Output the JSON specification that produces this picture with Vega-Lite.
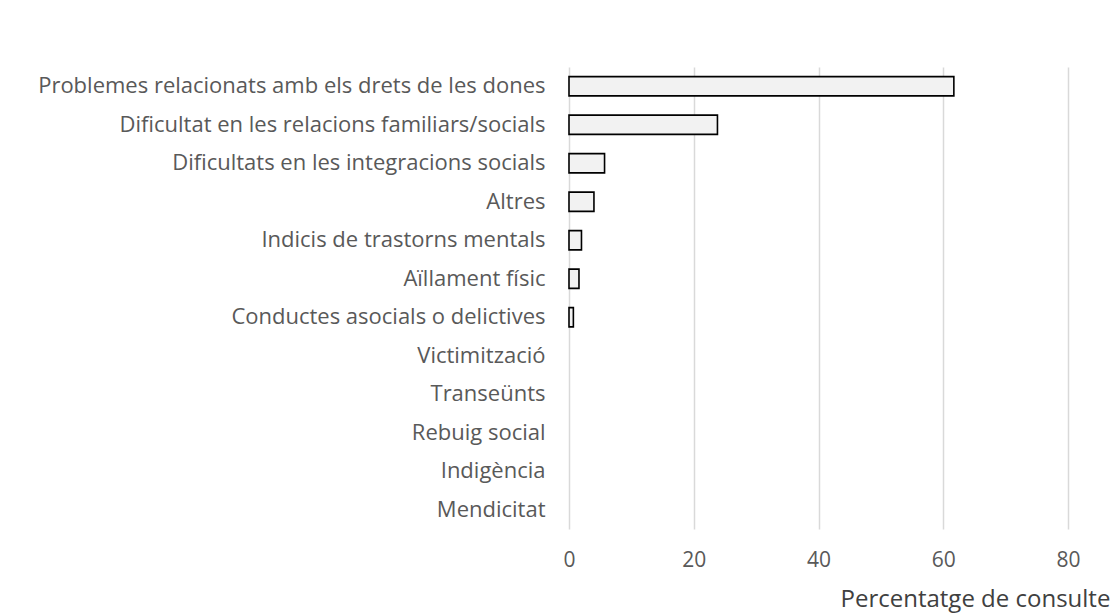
{
  "$schema": "https://vega.github.io/schema/vega-lite/v6.json",
  "autosize": {"type": "none"},
  "width": 499,
  "height": 462,
  "padding": {"left": 569, "top": 67, "right": 52, "bottom": 85},
  "background": "white",
  "data": {
    "values": [
      {"motiu": "Problemes relacionats amb els drets de les dones", "pct": 61.7},
      {"motiu": "Dificultat en les relacions familiars/socials", "pct": 23.8},
      {"motiu": "Dificultats en les integracions socials", "pct": 5.7},
      {"motiu": "Altres", "pct": 4.0},
      {"motiu": "Indicis de trastorns mentals", "pct": 2.0},
      {"motiu": "Aïllament físic", "pct": 1.6},
      {"motiu": "Conductes asocials o delictives", "pct": 0.7},
      {"motiu": "Victimització", "pct": 0},
      {"motiu": "Transeünts", "pct": 0},
      {"motiu": "Rebuig social", "pct": 0},
      {"motiu": "Indigència", "pct": 0},
      {"motiu": "Mendicitat", "pct": 0}
    ]
  },
  "mark": {"type": "bar", "fill": "#f2f2f2", "stroke": "#000000"},
  "encoding": {
    "y": {
      "field": "motiu",
      "type": "nominal",
      "sort": null,
      "scale": {"paddingInner": 0.5, "paddingOuter": 0.25},
      "axis": {
        "title": null,
        "domain": false,
        "ticks": false,
        "tickSize": 0,
        "grid": false,
        "labelPadding": 24,
        "labelFont": "Open Sans",
        "labelFontSize": 22,
        "labelColor": "#595959",
        "labelLimit": 600
      }
    },
    "x": {
      "field": "pct",
      "type": "quantitative",
      "scale": {"domain": [0, 80], "nice": false},
      "axis": {
        "title": "Percentatge de consulte",
        "values": [0, 20, 40, 60, 80],
        "domain": false,
        "ticks": false,
        "tickSize": 0,
        "grid": true,
        "gridColor": "#d9d9d9",
        "gridWidth": 1.5,
        "labelFlush": false,
        "labelPadding": 20,
        "labelFont": "Open Sans",
        "labelFontSize": 21,
        "labelColor": "#595959",
        "titleFont": "Open Sans",
        "titleFontSize": 24,
        "titleFontWeight": "normal",
        "titleColor": "#404040",
        "titleAlign": "left",
        "titleAnchor": "start",
        "titleBaseline": "alphabetic",
        "titleX": 271,
        "titleY": 77,
        "titleLimit": 600
      }
    },
    "strokeWidth": {
      "condition": {"test": "datum.pct > 0", "value": 1.6},
      "value": 0
    }
  },
  "config": {"view": {"stroke": null}}
}
